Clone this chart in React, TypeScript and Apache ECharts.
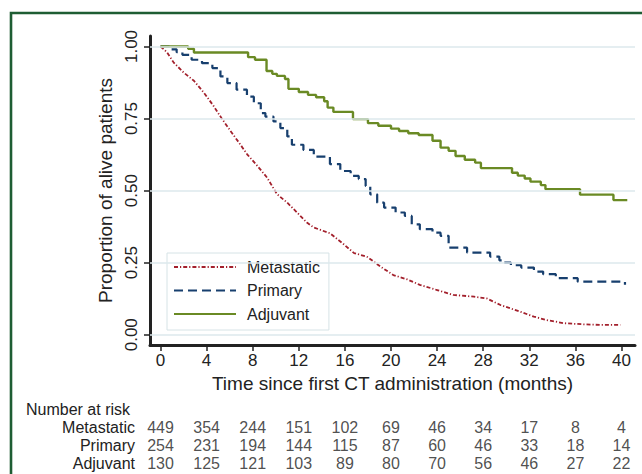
import React, { useEffect, useRef } from "react";
import * as echarts from "echarts";

// Kaplan-Meier survival estimates [months, proportion alive]
const metastatic: [number, number][] = [
  [0, 1.0], [0.3, 0.99], [0.58, 0.979], [1.15, 0.944], [2.0, 0.91], [2.9, 0.881],
  [3.76, 0.84], [4.6, 0.794], [5.35, 0.748], [6.07, 0.707], [6.8, 0.667], [7.52, 0.626],
  [8.4, 0.586], [9.25, 0.545], [10.1, 0.488], [11.0, 0.458], [11.85, 0.424], [12.7, 0.389],
  [13.3, 0.372], [14.7, 0.352], [15.8, 0.317], [16.8, 0.283], [17.9, 0.271], [19.1, 0.236],
  [20.2, 0.207], [21.4, 0.192], [22.5, 0.173], [24.0, 0.155], [25.4, 0.138], [27.2, 0.132],
  [28.3, 0.126], [29.5, 0.103], [31.2, 0.08], [32.4, 0.0625], [33.5, 0.051], [35.0, 0.04],
  [36.7, 0.036], [38.2, 0.034], [39.9, 0.034],
];

const primary: [number, number][] = [
  [0, 1], [0.9, 0.99], [1.4, 0.98], [1.9, 0.971], [2.7, 0.954], [3.6, 0.942], [4.5, 0.925],
  [5.2, 0.896], [5.8, 0.873], [6.6, 0.85], [7.5, 0.826], [8.1, 0.803], [8.7, 0.769],
  [9.1, 0.757], [9.8, 0.74], [10.4, 0.717], [11.0, 0.688], [11.4, 0.659], [12.4, 0.641],
  [13.3, 0.618], [14.7, 0.592], [15.6, 0.568], [16.5, 0.551], [17.2, 0.54], [17.8, 0.516],
  [18.2, 0.487], [18.8, 0.458], [19.4, 0.441], [20.4, 0.424], [21.2, 0.412], [21.8, 0.383],
  [22.5, 0.366], [23.6, 0.354], [24.3, 0.343], [25.0, 0.302], [26.6, 0.285], [28.6, 0.271],
  [29.4, 0.258], [29.8, 0.25], [30.4, 0.241], [31.3, 0.233], [32.4, 0.219], [33.2, 0.21],
  [34.3, 0.196], [36.2, 0.184], [40.3, 0.173],
];

const adjuvant: [number, number][] = [
  [0, 1], [2.4, 0.992], [2.9, 0.979], [7.6, 0.963], [8.2, 0.954], [9.2, 0.915], [9.7, 0.905],
  [10.1, 0.898], [10.8, 0.887], [11.1, 0.853], [12.0, 0.842], [12.8, 0.832], [13.5, 0.824],
  [14.2, 0.81], [14.5, 0.788], [15.0, 0.773], [16.7, 0.748], [18.0, 0.734], [18.9, 0.725],
  [20.0, 0.715], [20.7, 0.707], [21.5, 0.699], [22.4, 0.693], [23.6, 0.673], [24.3, 0.649],
  [25.0, 0.638], [25.6, 0.62], [26.4, 0.607], [27.3, 0.597], [27.8, 0.578], [30.5, 0.562],
  [31.0, 0.552], [31.6, 0.542], [32.1, 0.531], [33.0, 0.519], [33.4, 0.505], [36.4, 0.486],
  [39.3, 0.467], [40.5, 0.467],
];

const xTicks = [0, 4, 8, 12, 16, 20, 24, 28, 32, 36, 40];
const yTicks = [0, 0.25, 0.5, 0.75, 1];

const riskGroups = ["Metastatic", "Primary", "Adjuvant"];
const riskMetastatic = [449, 354, 244, 151, 102, 69, 46, 34, 17, 8, 4];
const riskPrimary = [254, 231, 194, 144, 115, 87, 60, 46, 33, 18, 14];
const riskAdjuvant = [130, 125, 121, 103, 89, 80, 70, 56, 46, 27, 22];

const FONT = "Liberation Sans";
const TXT = "#222";

export default function App() {
  const ref = useRef<HTMLDivElement>(null);
  useEffect(() => {
    document.body.style.margin = "0";
    const chart = echarts.init(ref.current!, null, { renderer: "svg" });
    const xMin = -0.911;
    const xMax = 41.17;
    const riskRows = [riskMetastatic, riskPrimary, riskAdjuvant];
    const riskData: any[] = [];
    riskRows.forEach((row, r) =>
      row.forEach((v, i) => riskData.push({ value: [xTicks[i], r], n: v }))
    );
    chart.setOption({
      animation: false,
      backgroundColor: "#ffffff",
      textStyle: { fontFamily: FONT },
      grid: [
        { left: 150, top: 36, width: 485, height: 309 },
        { left: 150, top: 418, width: 485, height: 54 },
      ],
      xAxis: [
        {
          type: "value",
          gridIndex: 0,
          min: xMin,
          max: xMax,
          name: "Time since first CT administration (months)",
          nameLocation: "middle",
          nameGap: 27,
          nameTextStyle: { fontSize: 19, color: TXT, fontFamily: FONT },
          axisLine: { onZero: false, lineStyle: { color: "#222", width: 3 } },
          axisTick: { show: true, length: 6, customValues: xTicks, lineStyle: { color: "#222", width: 1.5 } },
          axisLabel: { customValues: xTicks, fontSize: 17, color: TXT, margin: 7, fontFamily: FONT },
          splitLine: { show: false },
        },
        {
          type: "value",
          gridIndex: 1,
          min: xMin,
          max: xMax,
          show: false,
        },
      ],
      yAxis: [
        {
          type: "value",
          gridIndex: 0,
          min: -0.0357,
          max: 1.0364,
          name: "Proportion of alive patients",
          nameLocation: "middle",
          nameRotate: 90,
          nameGap: 29,
          nameTextStyle: { fontSize: 19, color: TXT, fontFamily: FONT },
          axisLine: { show: true, onZero: false, lineStyle: { color: "#222", width: 3 } },
          axisTick: { show: true, length: 6, customValues: yTicks, lineStyle: { color: "#222", width: 1.5 } },
          axisLabel: {
            customValues: yTicks,
            rotate: 90,
            fontSize: 17,
            color: TXT,
            margin: 10,
            fontFamily: FONT,
            fontStyle: "normal",
            formatter: (v: number) => v.toFixed(2),
          },
          splitLine: { show: false },
        },
        {
          type: "category",
          gridIndex: 1,
          data: riskGroups,
          inverse: true,
          axisLine: { show: false },
          axisTick: { show: false },
          axisLabel: { interval: 0, fontSize: 16, color: TXT, margin: 15, fontFamily: FONT },
        },
      ],
      legend: {
        orient: "vertical",
        left: 167,
        top: 253,
        padding: [6, 9, 8, 6],
        itemWidth: 62,
        itemHeight: 14,
        itemGap: 7.5,
        backgroundColor: "#ffffff",
        borderColor: "#d6e3e6",
        borderWidth: 1,
        borderRadius: 0,
        itemStyle: { opacity: 0 },
        textStyle: { fontSize: 16, color: TXT, fontFamily: FONT, padding: [0, 0, 0, 6] },
        data: ["Metastatic", "Primary", "Adjuvant"],
      },
      graphic: [
        {
          type: "rect",
          shape: { x: 11, y: 13, width: 700, height: 500 },
          style: { fill: "none", stroke: "#1e5d33", lineWidth: 2.6 },
          silent: true,
          z: 0,
        },
        {
          type: "text",
          x: 26,
          y: 409,
          style: { text: "Number at risk", fontSize: 16, fill: TXT, fontFamily: FONT, textVerticalAlign: "middle" },
        },
      ],
      series: [
        {
          type: "line",
          name: "grid",
          data: [],
          z: 1,
          silent: true,
          markLine: {
            silent: true,
            symbol: ["none", "none"],
            label: { show: false },
            lineStyle: { color: "#dde9ec", width: 1.5, type: "solid" },
            data: yTicks.map((v) => ({ yAxis: v })),
          },
        },
        {
          type: "line",
          name: "Metastatic",
          data: metastatic,
          symbol: "none",
          z: 3,
          lineStyle: { color: "#a3202c", width: 1.8, type: [4, 2, 1.2, 2] },
          itemStyle: { color: "#a3202c" },
        },
        {
          type: "line",
          name: "Primary",
          data: primary,
          step: "end",
          symbol: "none",
          z: 3,
          lineStyle: { color: "#173f6e", width: 2.2, type: [9, 5] },
          itemStyle: { color: "#173f6e" },
        },
        {
          type: "line",
          name: "Adjuvant",
          data: adjuvant,
          step: "end",
          symbol: "none",
          z: 3,
          lineStyle: { color: "#6a8a24", width: 2.4, type: "solid" },
          itemStyle: { color: "#6a8a24" },
        },
        {
          type: "scatter",
          name: "risk",
          xAxisIndex: 1,
          yAxisIndex: 1,
          data: riskData,
          symbolSize: 1,
          itemStyle: { color: "rgba(0,0,0,0)" },
          silent: true,
          label: {
            show: true,
            position: "inside",
            fontSize: 16,
            color: TXT,
            fontFamily: FONT,
            formatter: (p: any) => String(p.data.n),
          },
        },
      ],
    });
    return () => chart.dispose();
  }, []);
  return (
    <div
      ref={ref}
      style={{ position: "fixed", left: 0, top: 0, width: 642, height: 474, background: "#fff" }}
    />
  );
}
